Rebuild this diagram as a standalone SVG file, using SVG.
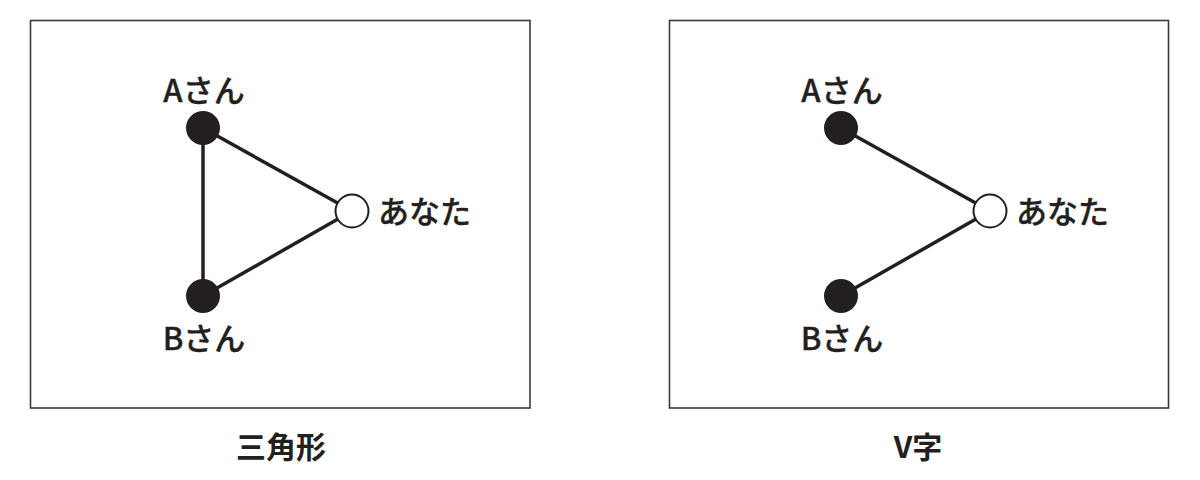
<svg xmlns="http://www.w3.org/2000/svg" width="1200" height="480" viewBox="0 0 1200 480">
<style>
.frame{fill:none;stroke:#3a3a3a;stroke-width:1.6}
.edge{stroke:#231f20;stroke-width:3.5;fill:none}
.dark{fill:#231f20}
.light{fill:#fff;stroke:#231f20;stroke-width:2}
text{font-family:"Noto Sans CJK JP","Noto Sans",sans-serif;font-weight:500;font-size:31px;fill:#231f20;stroke:#231f20;stroke-width:0.35}
.title{font-weight:700;font-size:30px;stroke:none}
.mid{text-anchor:middle}
</style>
<rect width="1200" height="480" fill="#fff"/>
<g id="panel-triangle">
<rect class="frame" x="30.5" y="20.5" width="499.5" height="387.5"/>
<g id="edges-triangle">
<line class="edge" x1="203" y1="128" x2="203" y2="296"/>
<line class="edge" x1="203" y1="128" x2="352" y2="211"/>
<line class="edge" x1="203" y1="296" x2="352" y2="211"/>
</g>
<g id="tri-a"><circle class="dark" cx="203" cy="128" r="17"/><text class="mid" x="204" y="102">Aさん</text></g>
<g id="tri-b"><circle class="dark" cx="203" cy="296" r="17"/><text class="mid" x="204" y="350">Bさん</text></g>
<g id="tri-you"><circle class="light" cx="352" cy="211" r="16.5"/><text x="378" y="223">あなた</text></g>
<text id="title-triangle" class="mid title" x="281" y="458">三角形</text>
</g>
<g id="panel-v">
<rect class="frame" x="669.5" y="20.5" width="499" height="387.5"/>
<g id="edges-v">
<line class="edge" x1="841" y1="128" x2="990" y2="211"/>
<line class="edge" x1="841" y1="296" x2="990" y2="211"/>
</g>
<g id="v-a"><circle class="dark" cx="841" cy="128" r="17"/><text class="mid" x="842" y="102">Aさん</text></g>
<g id="v-b"><circle class="dark" cx="841" cy="296" r="17"/><text class="mid" x="842" y="350">Bさん</text></g>
<g id="v-you"><circle class="light" cx="990" cy="211" r="16.5"/><text x="1016" y="223">あなた</text></g>
<text id="title-v" class="mid title" x="918" y="458">V字</text>
</g>
</svg>
